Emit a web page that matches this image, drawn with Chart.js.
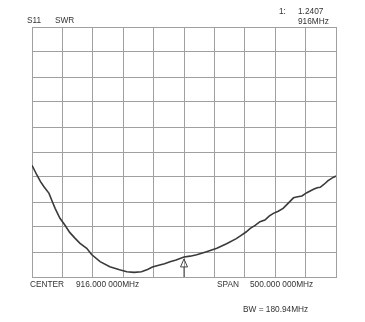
<!DOCTYPE html>
<html>
<head>
<meta charset="utf-8">
<script src="https://cdn.jsdelivr.net/npm/chart.js@4"></script>
<style>
  html, body { margin: 0; padding: 0; background: #fff; }
</style>
</head>
<body>
<canvas id="myChart" width="365" height="322"></canvas>
<script>
// frequency points (MHz) and SWR readings
const freqs = [666, 674, 680, 686, 694, 698, 704, 712, 720, 728, 737, 745, 756, 764, 778, 794,
    810, 822, 834, 846, 856, 864, 876, 884, 893, 903, 916, 926, 937, 953, 970, 986,
    1002, 1010, 1018, 1025, 1033, 1041, 1049, 1056, 1063, 1071, 1079, 1088, 1096, 1103,
    1110, 1118, 1129, 1135, 1140, 1146, 1153, 1160, 1166];
const swr = [2.34, 2.224, 2.144, 2.08, 2.004, 1.93, 1.824, 1.704, 1.624, 1.535, 1.464, 1.404, 1.344, 1.27, 1.184, 1.124,
    1.086, 1.062, 1.055, 1.062, 1.09, 1.12, 1.144, 1.16, 1.184, 1.205, 1.2407, 1.25, 1.266, 1.302, 1.344, 1.4,
    1.46, 1.5, 1.54, 1.584, 1.62, 1.664, 1.684, 1.73, 1.764, 1.79, 1.824, 1.89, 1.95, 1.962,
    1.972, 2.012, 2.052, 2.07, 2.076, 2.11, 2.156, 2.19, 2.212];

const xTicks = [666, 716, 766, 816, 866, 916, 966, 1016, 1066, 1116, 1166];
const yTicks = [1, 1.3, 1.6, 1.9, 2.2, 2.5, 2.8, 3.1, 3.4, 3.7, 4];

const markerFreq = 916;
const markerValue = 1.2407;

const texts = [
    ['S11', 27, 23],
    ['SWR', 55, 23],
    ['1:', 279, 14],
    ['1.2407', 298, 14],
    ['916MHz', 298, 24],
    ['CENTER', 30, 287],
    ['916.000 000MHz', 76, 287],
    ['SPAN', 217, 287],
    ['500.000 000MHz', 250, 287],
    ['BW = 180.94MHz', 243, 312]
];

const overlay = {
    id: 'overlay',
    afterDraw(chart) {
        const ctx = chart.ctx;
        const x = chart.scales.x, y = chart.scales.y;
        ctx.save();
        ctx.fillStyle = '#333';
        ctx.font = '8.3px "Liberation Sans", Arial, sans-serif';
        ctx.textBaseline = 'alphabetic';
        texts.forEach(t => ctx.fillText(t[0], t[1], t[2]));

        // marker triangle
        const mx = x.getPixelForValue(markerFreq);
        const my = y.getPixelForValue(markerValue) + 2;
        ctx.strokeStyle = '#444';
        ctx.lineWidth = 1;
        ctx.beginPath();
        ctx.moveTo(mx, my);
        ctx.lineTo(mx - 3.5, my + 8);
        ctx.lineTo(mx + 3.5, my + 8);
        ctx.closePath();
        ctx.stroke();
        ctx.beginPath();
        ctx.moveTo(mx, my + 8);
        ctx.lineTo(mx, chart.chartArea.bottom);
        ctx.stroke();
        ctx.restore();
    }
};

const data = {
    datasets: [
        {
            data: freqs.map((f, i) => ({ x: f, y: swr[i] })),
            borderColor: '#3a3a3a',
            borderWidth: 1.6,
            pointRadius: 0,
            tension: 0,
            fill: false
        }
    ]
};

const config = {
    type: 'line',
    data: data,
    options: {
        responsive: false,
        animation: false,
        layout: {
            padding: { left: 32, right: 29, top: 27, bottom: 45 }
        },
        scales: {
            x: {
                type: 'linear',
                min: 666,
                max: 1166,
                afterBuildTicks: s => { s.ticks = xTicks.map(v => ({ value: v })); },
                ticks: { display: false },
                grid: { color: '#a0a0a0', lineWidth: 1, drawTicks: false },
                border: { color: '#a0a0a0' }
            },
            y: {
                min: 1,
                max: 4,
                afterBuildTicks: s => { s.ticks = yTicks.map(v => ({ value: v })); },
                ticks: { display: false },
                grid: { color: '#a0a0a0', lineWidth: 1, drawTicks: false },
                border: { color: '#a0a0a0' }
            }
        },
        plugins: {
            legend: { display: false },
            tooltip: { enabled: false }
        }
    },
    plugins: [overlay]
};

const myChart = new Chart(document.getElementById('myChart'), config);
</script>
</body>
</html>
